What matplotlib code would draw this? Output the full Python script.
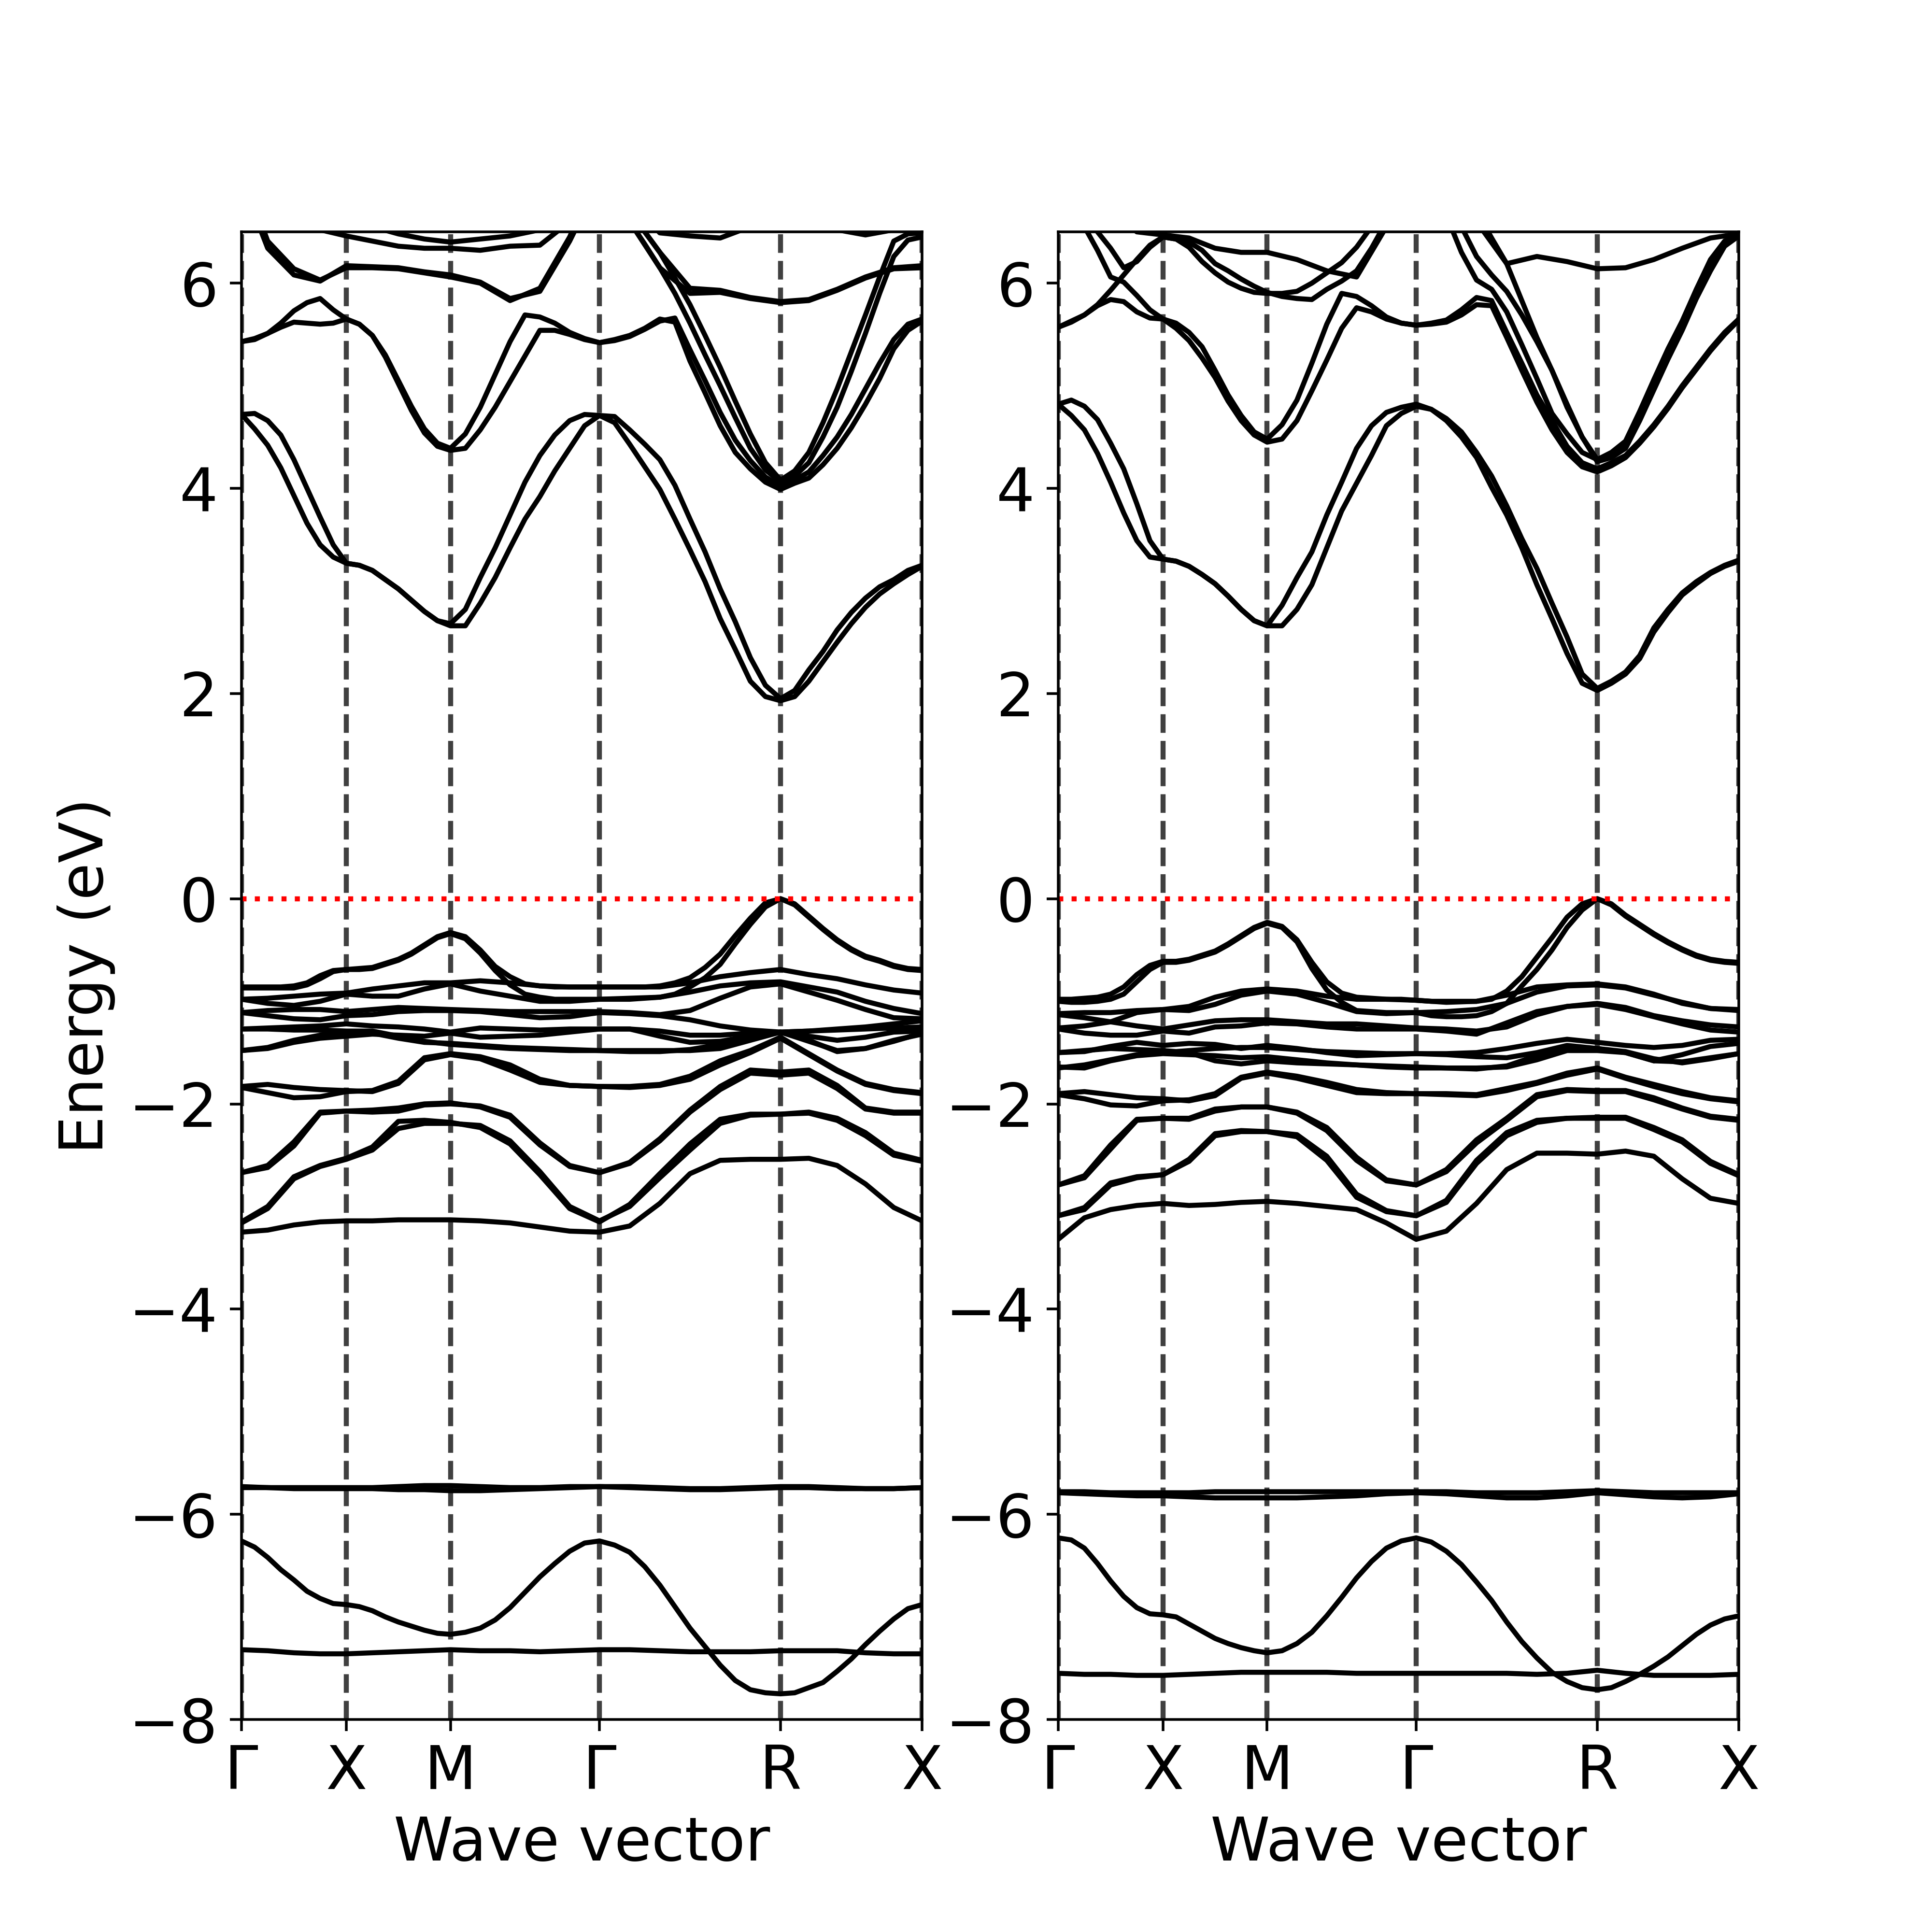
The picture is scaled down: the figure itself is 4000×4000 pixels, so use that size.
import numpy as np
import matplotlib
matplotlib.use('Agg')
import matplotlib.pyplot as plt

plt.rcParams['font.size'] = 18

# ---------------------------------------------------------------------------
# k-path: high-symmetry points and where they sit along the path (fraction)
# ---------------------------------------------------------------------------
k_labels = ['Γ', 'X', 'M', 'Γ', 'R', 'X']
k_nodes = [0.0, 0.154, 0.307, 0.526, 0.792, 1.0]
n_coarse = [4, 4, 5, 6, 5]      # flat-ish bands: 25 samples along the path
n_fine = [8, 8, 10, 12, 10]     # strongly dispersive bands: 49 samples

# energies (eV)
# ======================= left panel =======================
# dispersive bands (49 samples)
left_c1a = [4.72, 4.58, 4.42, 4.20, 3.93, 3.66, 3.45, 3.33, 3.27,
            3.25, 3.20, 3.11, 3.02, 2.91, 2.80, 2.71, 2.66,
            2.66, 2.88, 3.13, 3.42, 3.70, 3.92, 4.17, 4.39, 4.61, 4.71,
            4.64, 4.43, 4.21, 3.99, 3.70, 3.40, 3.09, 2.73, 2.43, 2.12, 1.97, 1.93,
            1.97, 2.12, 2.31, 2.50, 2.68, 2.84, 2.97, 3.07, 3.16, 3.24]
left_c1b = [4.72, 4.73, 4.66, 4.52, 4.28, 4.00, 3.72, 3.45, 3.27,
            3.25, 3.20, 3.11, 3.02, 2.91, 2.80, 2.71, 2.68,
            2.82, 3.13, 3.42, 3.74, 4.06, 4.32, 4.52, 4.66, 4.72, 4.71,
            4.70, 4.57, 4.43, 4.28, 4.03, 3.70, 3.38, 3.02, 2.70, 2.35, 2.08, 1.95,
            2.03, 2.23, 2.41, 2.62, 2.79, 2.93, 3.04, 3.11, 3.20, 3.25]
left_c2a = [5.43, 5.46, 5.51, 5.57, 5.62, 5.61, 5.60, 5.61, 5.65,
            5.60, 5.49, 5.28, 5.02, 4.76, 4.54, 4.41, 4.37,
            4.39, 4.57, 4.79, 5.04, 5.29, 5.54, 5.54, 5.50, 5.45, 5.42,
            5.45, 5.49, 5.56, 5.65, 5.62, 5.24, 4.93, 4.61, 4.35, 4.19, 4.06, 3.99,
            4.05, 4.10, 4.23, 4.39, 4.59, 4.82, 5.07, 5.36, 5.54, 5.63]
left_c2b = [5.43, 5.45, 5.51, 5.61, 5.73, 5.81, 5.85, 5.74, 5.65,
            5.60, 5.49, 5.30, 5.05, 4.80, 4.58, 4.44, 4.39,
            4.53, 4.79, 5.11, 5.43, 5.69, 5.67, 5.61, 5.52, 5.46, 5.42,
            5.44, 5.48, 5.55, 5.63, 5.66, 5.35, 5.05, 4.74, 4.47, 4.27, 4.11, 4.02,
            4.08, 4.16, 4.32, 4.50, 4.72, 4.97, 5.22, 5.45, 5.60, 5.65]
left_c3a = [6.9, 6.9, 6.9, 6.9, 6.9, 6.85, 6.8, 6.75, 6.7,
            6.7, 6.7, 6.7, 6.7, 6.7, 6.7, 6.7, 6.7,
            6.75, 6.8, 6.85, 6.9, 6.95, 7.0, 7.0, 7.0, 7.0, 7.0,
            6.8, 6.6, 6.38, 6.15, 5.90, 5.61, 5.30, 5.00, 4.69, 4.39, 4.18, 4.06,
            4.12, 4.25, 4.50, 4.79, 5.14, 5.51, 5.90, 6.26, 6.42, 6.45]
left_c3b = [7.0, 7.0, 7.0, 7.0, 7.0, 6.95, 6.9, 6.85, 6.8,
            6.8, 6.8, 6.8, 6.8, 6.8, 6.8, 6.8, 6.8,
            6.85, 6.9, 6.95, 7.0, 7.05, 7.1, 7.1, 7.1, 7.1, 7.1,
            6.9, 6.7, 6.5, 6.30, 6.05, 5.79, 5.49, 5.18, 4.85, 4.53, 4.25, 4.08,
            4.17, 4.35, 4.64, 4.97, 5.33, 5.69, 6.06, 6.41, 6.48, 6.49]
left_v1 = [-0.86, -0.86, -0.86, -0.86, -0.85, -0.82, -0.75, -0.70, -0.69,
           -0.68, -0.67, -0.63, -0.59, -0.53, -0.45, -0.37, -0.33,
           -0.37, -0.50, -0.66, -0.76, -0.83, -0.85, -0.86, -0.86, -0.86, -0.86,
           -0.86, -0.86, -0.86, -0.85, -0.82, -0.77, -0.67, -0.54, -0.36, -0.19, -0.04, 0.0,
           -0.05, -0.17, -0.29, -0.40, -0.49, -0.56, -0.60, -0.65, -0.68, -0.69]
left_v2 = [-0.87, -0.87, -0.87, -0.87, -0.87, -0.84, -0.78, -0.71, -0.69,
           -0.69, -0.68, -0.64, -0.60, -0.54, -0.46, -0.38, -0.34,
           -0.39, -0.53, -0.70, -0.84, -0.93, -0.96, -0.98, -0.98, -0.98, -0.98,
           -0.98, -0.98, -0.97, -0.96, -0.93, -0.86, -0.77, -0.64, -0.44, -0.25, -0.08, 0.0,
           -0.06, -0.18, -0.30, -0.41, -0.50, -0.57, -0.61, -0.66, -0.69, -0.70]
left_d2 = [-6.26, -6.32, -6.42, -6.54, -6.64, -6.75, -6.82, -6.87, -6.88,
           -6.90, -6.94, -7.00, -7.05, -7.09, -7.13, -7.16, -7.17,
           -7.15, -7.11, -7.03, -6.91, -6.76, -6.61, -6.48, -6.36, -6.28, -6.26,
           -6.30, -6.37, -6.51, -6.69, -6.90, -7.11, -7.29, -7.47, -7.62, -7.71, -7.74, -7.75,
           -7.74, -7.69, -7.64, -7.53, -7.41, -7.27, -7.14, -7.02, -6.92, -6.88]

# flatter bands (25 samples)
left_c4a = [7.0, 6.34, 6.08, 6.02, 6.17, 6.16, 6.15, 6.11, 6.08, 6.01, 5.85, 5.92, 6.41, 7.0,
            6.6, 6.15, 5.90, 5.91, 5.85, 5.81, 5.83, 5.93, 6.05, 6.14, 6.15]
left_c4b = [7.1, 6.41, 6.14, 6.03, 6.15, 6.15, 6.14, 6.10, 6.06, 6.00, 5.83, 5.95, 6.45, 7.1,
            6.7, 6.3, 5.95, 5.93, 5.86, 5.82, 5.84, 5.94, 6.06, 6.15, 6.17]
left_c5a = [7.2, 7.0, 6.8, 6.52, 6.46, 6.41, 6.36, 6.34, 6.34, 6.32, 6.36, 6.37, 6.6, 7.2,
            6.8, 6.49, 6.46, 6.44, 6.55, 6.7, 6.6, 6.52, 6.47, 6.52, 6.7]
left_c5b = [7.3, 7.2, 7.0, 6.8, 6.6, 6.55, 6.48, 6.43, 6.40, 6.43, 6.46, 6.52, 6.8, 7.3,
            7.0, 6.8, 6.7, 6.6, 6.7, 6.8, 6.8, 6.7, 6.6, 6.7, 6.8]
left_v3 = [-0.98, -0.97, -0.95, -0.93, -0.92, -0.88, -0.85, -0.82, -0.82, -0.80, -0.82, -0.85, -0.86, -0.86,
           -0.86, -0.86, -0.82, -0.76, -0.72, -0.69, -0.74, -0.78, -0.84, -0.89, -0.92]
left_v4 = [-0.98, -1.02, -1.04, -1.00, -0.93, -0.95, -0.95, -0.88, -0.83, -0.90, -0.95, -1.00, -1.00, -0.98,
           -0.97, -0.96, -0.91, -0.85, -0.82, -0.81, -0.86, -0.91, -1.00, -1.07, -1.12]
left_v5 = [-1.11, -1.09, -1.08, -1.08, -1.10, -1.08, -1.06, -1.07, -1.08, -1.09, -1.10, -1.10, -1.10, -1.10,
           -1.11, -1.13, -1.09, -0.97, -0.86, -0.83, -0.91, -0.99, -1.08, -1.16, -1.17]
left_v6 = [-1.11, -1.14, -1.17, -1.18, -1.14, -1.13, -1.10, -1.09, -1.09, -1.10, -1.13, -1.16, -1.15, -1.11,
           -1.12, -1.14, -1.18, -1.24, -1.28, -1.30, -1.29, -1.27, -1.25, -1.22, -1.19]
left_v7 = [-1.27, -1.27, -1.28, -1.28, -1.29, -1.29, -1.34, -1.39, -1.42, -1.44, -1.46, -1.47, -1.48, -1.48,
           -1.48, -1.48, -1.48, -1.46, -1.38, -1.30, -1.34, -1.38, -1.35, -1.30, -1.29]
left_v8 = [-1.27, -1.26, -1.25, -1.24, -1.22, -1.24, -1.25, -1.27, -1.30, -1.26, -1.27, -1.28, -1.27, -1.27,
           -1.27, -1.29, -1.33, -1.33, -1.31, -1.30, -1.39, -1.48, -1.46, -1.38, -1.32]
left_v9 = [-1.48, -1.45, -1.38, -1.33, -1.30, -1.31, -1.36, -1.40, -1.41, -1.43, -1.45, -1.46, -1.47, -1.48,
           -1.49, -1.49, -1.47, -1.42, -1.35, -1.30, -1.29, -1.28, -1.27, -1.26, -1.25]
left_v10 = [-1.48, -1.46, -1.40, -1.36, -1.34, -1.32, -1.33, -1.34, -1.31, -1.35, -1.34, -1.33, -1.30, -1.27,
            -1.27, -1.34, -1.40, -1.39, -1.34, -1.30, -1.38, -1.49, -1.46, -1.39, -1.31]
left_v11 = [-1.83, -1.81, -1.84, -1.86, -1.87, -1.88, -1.80, -1.57, -1.52, -1.56, -1.67, -1.79, -1.82, -1.83,
            -1.83, -1.81, -1.73, -1.58, -1.48, -1.35, -1.51, -1.67, -1.80, -1.86, -1.89]
left_v12 = [-1.84, -1.89, -1.94, -1.93, -1.88, -1.87, -1.78, -1.55, -1.51, -1.54, -1.62, -1.76, -1.82, -1.83,
            -1.84, -1.82, -1.76, -1.62, -1.50, -1.36, -1.52, -1.68, -1.81, -1.87, -1.90]
left_v13 = [-2.67, -2.62, -2.41, -2.09, -2.07, -2.08, -2.07, -2.01, -2.00, -2.02, -2.11, -2.38, -2.60, -2.67,
            -2.57, -2.34, -2.06, -1.83, -1.67, -1.69, -1.67, -1.82, -2.04, -2.08, -2.08]
left_v14 = [-2.67, -2.60, -2.37, -2.08, -2.07, -2.06, -2.04, -2.00, -1.99, -2.03, -2.13, -2.40, -2.61, -2.67,
            -2.58, -2.36, -2.08, -1.86, -1.70, -1.72, -1.70, -1.85, -2.05, -2.09, -2.09]
left_v15 = [-3.15, -3.00, -2.71, -2.60, -2.53, -2.42, -2.17, -2.16, -2.18, -2.23, -2.39, -2.69, -3.02, -3.15,
            -2.98, -2.68, -2.39, -2.15, -2.10, -2.10, -2.08, -2.14, -2.28, -2.48, -2.55]
left_v16 = [-3.16, -3.02, -2.73, -2.61, -2.54, -2.45, -2.24, -2.19, -2.19, -2.21, -2.36, -2.66, -3.00, -3.14,
            -3.00, -2.72, -2.45, -2.19, -2.11, -2.10, -2.09, -2.16, -2.31, -2.50, -2.56]
left_v17 = [-3.25, -3.23, -3.18, -3.15, -3.14, -3.14, -3.13, -3.13, -3.13, -3.14, -3.16, -3.20, -3.24, -3.25,
            -3.19, -2.97, -2.68, -2.55, -2.54, -2.54, -2.53, -2.60, -2.78, -3.01, -3.14]
left_d1a = [-5.73, -5.74, -5.74, -5.74, -5.74, -5.74, -5.73, -5.72, -5.72, -5.73, -5.74, -5.74, -5.73, -5.73,
            -5.73, -5.74, -5.75, -5.75, -5.74, -5.73, -5.73, -5.74, -5.75, -5.75, -5.74]
left_d1b = [-5.74, -5.74, -5.75, -5.75, -5.75, -5.75, -5.76, -5.76, -5.77, -5.77, -5.76, -5.75, -5.74, -5.73,
            -5.74, -5.75, -5.76, -5.76, -5.75, -5.74, -5.74, -5.75, -5.75, -5.75, -5.74]
left_d3 = [-7.32, -7.33, -7.35, -7.36, -7.36, -7.35, -7.34, -7.33, -7.32, -7.33, -7.33, -7.34, -7.33, -7.32,
           -7.32, -7.33, -7.34, -7.34, -7.34, -7.33, -7.33, -7.33, -7.35, -7.36, -7.36]

# ======================= right panel =======================
right_c1a = [4.82, 4.71, 4.57, 4.34, 4.06, 3.76, 3.49, 3.33, 3.31,
             3.29, 3.24, 3.16, 3.07, 2.95, 2.82, 2.71, 2.66,
             2.66, 2.82, 3.06, 3.42, 3.78, 4.05, 4.32, 4.61, 4.73, 4.80,
             4.77, 4.66, 4.50, 4.30, 4.01, 3.74, 3.42, 3.06, 2.73, 2.39, 2.10, 2.03,
             2.10, 2.19, 2.34, 2.60, 2.79, 2.96, 3.07, 3.17, 3.24, 3.29]
right_c1b = [4.82, 4.86, 4.80, 4.67, 4.44, 4.19, 3.85, 3.49, 3.31,
             3.29, 3.24, 3.16, 3.07, 2.95, 2.82, 2.71, 2.66,
             2.86, 3.13, 3.38, 3.74, 4.06, 4.39, 4.61, 4.74, 4.79, 4.82,
             4.77, 4.68, 4.55, 4.35, 4.12, 3.83, 3.51, 3.22, 2.88, 2.55, 2.19, 2.05,
             2.12, 2.21, 2.37, 2.64, 2.82, 2.98, 3.09, 3.18, 3.25, 3.30]
right_c2a = [5.57, 5.63, 5.69, 5.78, 5.84, 5.82, 5.72, 5.66, 5.65,
             5.61, 5.52, 5.38, 5.15, 4.91, 4.71, 4.55, 4.48,
             4.62, 4.86, 5.22, 5.60, 5.90, 5.87, 5.78, 5.67, 5.61, 5.59,
             5.61, 5.64, 5.74, 5.86, 5.83, 5.52, 5.22, 4.91, 4.66, 4.41, 4.25, 4.19,
             4.25, 4.32, 4.46, 4.62, 4.80, 5.00, 5.18, 5.36, 5.52, 5.65]
right_c2b = [7.1, 6.85, 6.55, 6.32, 6.06, 6.01, 5.88, 5.74, 5.65,
             5.56, 5.44, 5.27, 5.08, 4.85, 4.66, 4.52, 4.45,
             4.48, 4.66, 4.95, 5.25, 5.56, 5.76, 5.72, 5.65, 5.61, 5.59,
             5.60, 5.62, 5.69, 5.79, 5.78, 5.47, 5.15, 4.84, 4.57, 4.35, 4.21, 4.16,
             4.22, 4.30, 4.44, 4.60, 4.78, 4.98, 5.16, 5.34, 5.50, 5.64]
right_c3a = [5.57, 5.62, 5.69, 5.79, 5.93, 6.08, 6.23, 6.37, 6.45,
             6.43, 6.35, 6.21, 6.10, 6.01, 5.95, 5.91, 5.90,
             5.90, 5.92, 6.00, 6.10, 6.20, 6.35, 6.55, 6.75, 6.9, 7.0,
             7.0, 6.66, 6.30, 6.03, 5.94, 5.72, 5.40, 5.07, 4.73, 4.53, 4.35, 4.28,
             4.35, 4.46, 4.75, 5.06, 5.36, 5.63, 5.94, 6.23, 6.41, 6.47]
right_c3b = [7.3, 7.0, 6.75, 6.50, 6.34, 6.15, 6.21, 6.35, 6.45,
             6.43, 6.40, 6.32, 6.19, 6.12, 6.04, 5.97, 5.91,
             5.87, 5.85, 5.84, 5.94, 6.02, 6.12, 6.34, 6.6, 6.9, 7.2,
             7.2, 6.9, 6.55, 6.26, 6.08, 5.92, 5.69, 5.43, 5.15, 4.79, 4.50, 4.26,
             4.30, 4.39, 4.66, 4.96, 5.26, 5.54, 5.85, 6.12, 6.36, 6.46]
right_c3c = [7.4, 7.4, 7.3, 7.3, 7.2, 7.1, 7.0, 6.95, 6.9,
             6.9, 6.9, 6.9, 6.9, 6.9, 6.9, 6.9, 6.9,
             6.9, 6.95, 7.0, 7.05, 7.1, 7.15, 7.2, 7.25, 7.3, 7.4,
             7.3, 7.1, 6.9, 6.7, 6.44, 6.19, 5.83, 5.47, 5.15, 4.82, 4.50, 4.28,
             4.32, 4.42, 4.70, 5.00, 5.30, 5.58, 5.89, 6.17, 6.38, 6.46]
right_v1 = [-0.98, -0.98, -0.97, -0.96, -0.93, -0.86, -0.74, -0.65, -0.61,
            -0.61, -0.59, -0.55, -0.51, -0.44, -0.36, -0.28, -0.23,
            -0.27, -0.40, -0.62, -0.81, -0.92, -0.96, -0.97, -0.98, -0.98, -0.99,
            -1.00, -1.00, -1.00, -1.00, -0.98, -0.90, -0.76, -0.57, -0.38, -0.18, -0.05, 0.0,
            -0.05, -0.16, -0.25, -0.34, -0.42, -0.49, -0.55, -0.59, -0.61, -0.62]
right_v2 = [-1.00, -1.01, -1.01, -1.00, -0.98, -0.93, -0.81, -0.69, -0.62,
            -0.62, -0.60, -0.56, -0.52, -0.45, -0.37, -0.29, -0.24,
            -0.28, -0.42, -0.68, -0.89, -1.01, -1.09, -1.10, -1.11, -1.11, -1.11,
            -1.14, -1.15, -1.15, -1.14, -1.10, -1.02, -0.85, -0.69, -0.50, -0.28, -0.11, 0.0,
            -0.06, -0.17, -0.26, -0.35, -0.43, -0.50, -0.56, -0.60, -0.62, -0.63]
right_d2 = [-6.23, -6.25, -6.33, -6.48, -6.65, -6.80, -6.91, -6.97, -6.98,
            -7.00, -7.07, -7.14, -7.21, -7.26, -7.30, -7.33, -7.35,
            -7.33, -7.26, -7.15, -6.99, -6.81, -6.62, -6.46, -6.33, -6.26, -6.23,
            -6.27, -6.36, -6.49, -6.66, -6.84, -7.05, -7.24, -7.40, -7.54, -7.63, -7.69, -7.71,
            -7.69, -7.63, -7.56, -7.48, -7.39, -7.28, -7.17, -7.08, -7.02, -6.99]

right_c4 = [7.3, 6.95, 6.7, 6.5, 6.47, 6.44, 6.34, 6.30, 6.30, 6.23, 6.12, 6.06, 6.55, 7.3,
            7.0, 6.6, 6.19, 6.26, 6.21, 6.14, 6.15, 6.23, 6.34, 6.44, 6.48]
right_v3 = [-1.12, -1.11, -1.11, -1.09, -1.08, -1.05, -0.96, -0.90, -0.88, -0.90, -0.95, -0.98, -0.98, -0.99,
            -1.01, -1.00, -0.94, -0.86, -0.84, -0.83, -0.86, -0.93, -1.02, -1.07, -1.08]
right_v4 = [-1.26, -1.24, -1.20, -1.11, -1.08, -1.09, -1.03, -0.94, -0.90, -0.93, -1.01, -1.10, -1.12, -1.11,
            -1.10, -1.08, -1.02, -0.91, -0.85, -0.84, -0.87, -0.94, -1.01, -1.07, -1.09]
right_v5 = [-1.13, -1.16, -1.20, -1.24, -1.27, -1.23, -1.19, -1.18, -1.18, -1.20, -1.22, -1.22, -1.24, -1.26,
            -1.27, -1.29, -1.25, -1.13, -1.05, -1.02, -1.06, -1.14, -1.19, -1.23, -1.25]
right_v6 = [-1.27, -1.31, -1.33, -1.33, -1.29, -1.31, -1.25, -1.24, -1.21, -1.22, -1.25, -1.27, -1.27, -1.27,
            -1.29, -1.32, -1.21, -1.10, -1.05, -1.03, -1.08, -1.15, -1.22, -1.28, -1.30]
right_v7 = [-1.50, -1.49, -1.44, -1.40, -1.43, -1.41, -1.42, -1.46, -1.43, -1.46, -1.50, -1.53, -1.52, -1.51,
            -1.51, -1.50, -1.46, -1.41, -1.37, -1.40, -1.43, -1.45, -1.43, -1.38, -1.37]
right_v8 = [-1.50, -1.48, -1.46, -1.47, -1.48, -1.50, -1.58, -1.61, -1.58, -1.60, -1.61, -1.62, -1.63, -1.64,
            -1.65, -1.65, -1.64, -1.57, -1.48, -1.48, -1.50, -1.58, -1.59, -1.55, -1.51]
right_v9 = [-1.64, -1.65, -1.58, -1.53, -1.51, -1.52, -1.53, -1.55, -1.54, -1.57, -1.60, -1.62, -1.64, -1.65,
            -1.65, -1.66, -1.63, -1.53, -1.47, -1.46, -1.50, -1.58, -1.52, -1.44, -1.41]
right_v10 = [-1.65, -1.62, -1.57, -1.52, -1.50, -1.48, -1.46, -1.45, -1.45, -1.47, -1.49, -1.50, -1.51, -1.51,
             -1.52, -1.54, -1.55, -1.50, -1.43, -1.46, -1.49, -1.56, -1.60, -1.56, -1.51]
right_v11 = [-1.90, -1.88, -1.91, -1.94, -1.95, -1.97, -1.92, -1.75, -1.70, -1.75, -1.82, -1.89, -1.90, -1.90,
             -1.90, -1.91, -1.85, -1.79, -1.70, -1.65, -1.74, -1.81, -1.88, -1.94, -1.97]
right_v12 = [-1.91, -1.95, -2.01, -2.02, -1.97, -1.96, -1.90, -1.74, -1.69, -1.73, -1.79, -1.86, -1.89, -1.90,
             -1.91, -1.92, -1.87, -1.80, -1.72, -1.66, -1.75, -1.83, -1.90, -1.95, -1.98]
right_v13 = [-2.79, -2.72, -2.44, -2.16, -2.14, -2.15, -2.07, -2.03, -2.03, -2.08, -2.23, -2.52, -2.74, -2.79,
             -2.64, -2.35, -2.14, -1.91, -1.86, -1.87, -1.87, -1.94, -2.04, -2.12, -2.15]
right_v14 = [-2.79, -2.70, -2.40, -2.15, -2.14, -2.14, -2.05, -2.03, -2.03, -2.09, -2.26, -2.55, -2.75, -2.79,
             -2.66, -2.38, -2.16, -1.93, -1.87, -1.88, -1.88, -1.96, -2.05, -2.13, -2.16]
right_v15 = [-3.09, -3.03, -2.79, -2.72, -2.69, -2.56, -2.31, -2.27, -2.27, -2.30, -2.51, -2.88, -3.04, -3.09,
             -2.94, -2.55, -2.28, -2.16, -2.14, -2.13, -2.13, -2.23, -2.35, -2.56, -2.69]
right_v16 = [-3.09, -3.01, -2.77, -2.71, -2.69, -2.54, -2.29, -2.26, -2.27, -2.32, -2.55, -2.91, -3.05, -3.09,
             -2.96, -2.58, -2.31, -2.18, -2.14, -2.14, -2.14, -2.25, -2.37, -2.58, -2.70]
right_v17 = [-3.32, -3.11, -3.03, -2.99, -2.97, -2.99, -2.98, -2.96, -2.95, -2.97, -3.00, -3.03, -3.16, -3.32,
             -3.24, -2.97, -2.64, -2.48, -2.48, -2.49, -2.46, -2.51, -2.73, -2.92, -2.97]
right_d1a = [-5.78, -5.78, -5.79, -5.79, -5.79, -5.79, -5.78, -5.78, -5.78, -5.78, -5.78, -5.78, -5.78, -5.78,
             -5.78, -5.79, -5.79, -5.79, -5.78, -5.77, -5.78, -5.79, -5.79, -5.79, -5.79]
right_d1b = [-5.79, -5.80, -5.81, -5.82, -5.82, -5.83, -5.84, -5.84, -5.84, -5.84, -5.83, -5.82, -5.80, -5.79,
             -5.80, -5.82, -5.84, -5.84, -5.82, -5.79, -5.81, -5.83, -5.84, -5.83, -5.80]
right_d3 = [-7.55, -7.56, -7.56, -7.57, -7.57, -7.56, -7.55, -7.54, -7.54, -7.54, -7.54, -7.55, -7.55, -7.55,
            -7.55, -7.55, -7.55, -7.56, -7.55, -7.52, -7.55, -7.57, -7.57, -7.57, -7.56]

left_fine = [left_c1a, left_c1b, left_c2a, left_c2b, left_c3a, left_c3b, left_v1, left_v2, left_d2]
left_coarse = [left_c4a, left_c4b, left_c5a, left_c5b,
               left_v3, left_v4, left_v5, left_v6, left_v7, left_v8, left_v9, left_v10,
               left_v11, left_v12, left_v13, left_v14, left_v15, left_v16, left_v17,
               left_d1a, left_d1b, left_d3]
right_fine = [right_c1a, right_c1b, right_c2a, right_c2b, right_c3a, right_c3b, right_c3c,
              right_v1, right_v2, right_d2]
right_coarse = [right_c4, right_v3, right_v4, right_v5, right_v6, right_v7, right_v8, right_v9,
                right_v10, right_v11, right_v12, right_v13, right_v14, right_v15, right_v16,
                right_v17, right_d1a, right_d1b, right_d3]


def k_grid(counts):
    # k coordinate of every sample along the Γ-X-M-Γ-R-X path
    parts = [np.linspace(k_nodes[i], k_nodes[i + 1], n + 1)[:-1] for i, n in enumerate(counts)]
    return np.concatenate(parts + [[k_nodes[-1]]])


k_c = k_grid(n_coarse)
k_f = k_grid(n_fine)

fig, axes = plt.subplots(1, 2, figsize=(8, 8))

panels = [(left_coarse, left_fine), (right_coarse, right_fine)]
for ax, (coarse, fine) in zip(axes, panels):
    for band in coarse:
        ax.plot(k_c, band, color='k', lw=1.5)
    for band in fine:
        ax.plot(k_f, band, color='k', lw=1.5)
    for kn in k_nodes:
        ax.axvline(kn, color='k', ls='--', lw=1.5, alpha=0.75)
    ax.axhline(0, color='r', ls=':', lw=1.5)

    ax.set_xlim(k_nodes[0], k_nodes[-1])
    ax.set_ylim(-8, 6.5)
    ax.set_xticks(k_nodes)
    ax.set_xticklabels(k_labels)
    ax.set_xlabel('Wave vector')

axes[0].set_ylabel('Energy (eV)')

plt.savefig('out.png', dpi=500)
